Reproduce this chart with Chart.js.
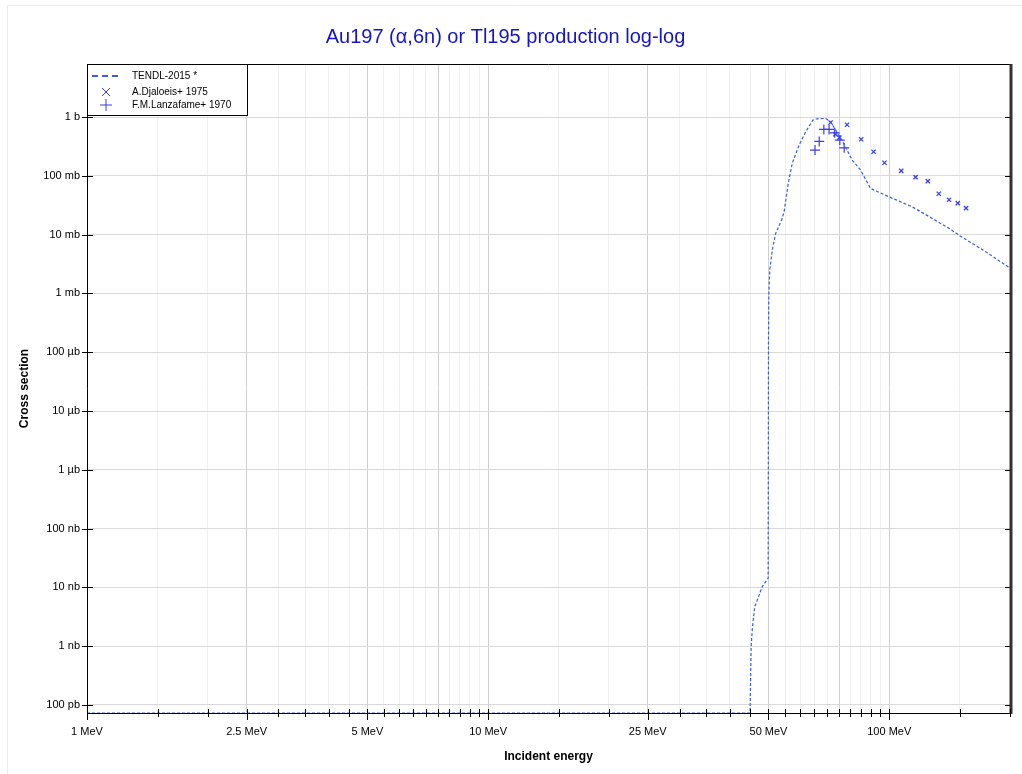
<!DOCTYPE html>
<html lang="en">
<head>
    <meta charset="UTF-8">
    <title>Au197 (α,6n) or Tl195 production log-log</title>
    <script src="https://cdn.jsdelivr.net/npm/chart.js"></script>
    <style>
        body { margin: 0; background: #fff; }
        canvas { display: block; }
    </style>
</head>
<body>
    <canvas id="xs" width="1022" height="774"></canvas>

    <script>
        // TENDL-2015 evaluated curve (MeV, barn)
        const tendlE = [1, 44.98, 45.25, 45.6, 46.2, 48.2, 49.9, 50.0, 50.1, 50.4, 51.1, 52.1, 53.9, 54.7,
            56.0, 57.3, 59.6, 61.9, 64.5, 66.1, 69.4, 71.4, 73.5, 75.7, 77.8, 80.8, 84.8, 89.8, 99.8,
            114, 128, 141, 149, 174, 200];
        const tendlXs = [7.3e-11, 7.3e-11, 9.7e-10, 2.1e-9, 4.65e-9, 1.02e-8, 1.44e-8, 1.6e-4, 1.0e-3, 2.6e-3,
            5.5e-3, 0.0105, 0.0177, 0.0245, 0.075, 0.163, 0.334, 0.562, 0.889, 0.936, 0.95, 0.832, 0.601,
            0.434, 0.313, 0.186, 0.126, 0.0613, 0.0441, 0.0298, 0.0189, 0.0128, 0.00984, 0.00512, 0.0027];

        // A.Djaloeis+ 1975
        const djaloeisE = [71.4, 73.4, 75.1, 78.5, 85.1, 91.4, 97.3, 107.1, 116.3, 124.8, 132.9, 140.9, 148.2, 155.4];
        const djaloeisXs = [0.81, 0.514, 0.448, 0.74, 0.42, 0.257, 0.167, 0.122, 0.0955, 0.0816, 0.0496, 0.0393, 0.0345, 0.0283];

        // F.M.Lanzafame+ 1970
        const lanzafameE = [65.3, 66.9, 68.7, 70.8, 73.1, 75.3, 77.2];
        const lanzafameXs = [0.275, 0.386, 0.618, 0.618, 0.541, 0.406, 0.30];

        const seriesLabels = ['TENDL-2015 *', 'A.Djaloeis+ 1975', 'F.M.Lanzafame+ 1970'];

        // axis ticks
        const xMajor = [1, 2.5, 5, 7.5, 10, 25, 50, 75, 100];
        const xLabeled = [1, 2.5, 5, 10, 25, 50, 100];
        const yTicks = [1e-10, 1e-9, 1e-8, 1e-7, 1e-6, 1e-5, 1e-4, 1e-3, 1e-2, 1e-1, 1];
        const yLabels = ['100 pb', '1 nb', '10 nb', '100 nb', '1 µb', '10 µb', '100 µb', '1 mb', '10 mb', '100 mb', '1 b'];

        const xTicks = [];
        for (let i = 2; i < 20; i++) xTicks.push(i / 2);
        for (let i = 2; i < 20; i++) xTicks.push(i * 5);
        xTicks.push(100, 150, 200);

        const lineColor = '#3a5fd9';
        const markColor = '#3a3ef0';
        const fontFam = "Arial, 'Liberation Sans', sans-serif";
        Chart.defaults.font.family = fontFam;

        const toPts = (xs, ys) => xs.map((x, i) => ({ x: x, y: ys[i] }));

        // outer faint frame
        const pageFrame = {
            id: 'pageFrame',
            beforeDraw(chart) {
                const ctx = chart.ctx;
                ctx.save();
                ctx.strokeStyle = '#ececec';
                ctx.lineWidth = 1;
                ctx.beginPath();
                ctx.moveTo(7.5, 774);
                ctx.lineTo(7.5, 5.5);
                ctx.lineTo(1022, 5.5);
                ctx.stroke();
                ctx.restore();
            }
        };

        // axis frame + crossing tick marks
        const axisFrame = {
            id: 'axisFrame',
            afterDatasetsDraw(chart) {
                const { ctx, chartArea: a, scales } = chart;
                ctx.save();
                ctx.strokeStyle = '#000';
                ctx.lineWidth = 1;
                ctx.beginPath();
                ctx.moveTo(a.left + 0.5, a.bottom);
                ctx.lineTo(a.left + 0.5, a.top + 0.5);
                ctx.lineTo(a.right, a.top + 0.5);
                ctx.moveTo(a.left, a.bottom + 0.5);
                ctx.lineTo(a.right, a.bottom + 0.5);
                ctx.stroke();
                ctx.strokeStyle = '#333';
                ctx.lineWidth = 3;
                ctx.beginPath();
                ctx.moveTo(a.right + 1, a.top);
                ctx.lineTo(a.right + 1, a.bottom + 1);
                ctx.stroke();

                ctx.lineWidth = 1;
                ctx.strokeStyle = '#000';
                ctx.beginPath();
                yTicks.forEach(v => {
                    const y = Math.round(scales.y.getPixelForValue(v)) + 0.5;
                    ctx.moveTo(a.left - 5, y);
                    ctx.lineTo(a.left + 6, y);
                    ctx.moveTo(a.right - 5, y);
                    ctx.lineTo(a.right, y);
                });
                xTicks.forEach(v => {
                    const x = Math.round(scales.x.getPixelForValue(v)) + 0.5;
                    const big = xLabeled.includes(v);
                    ctx.moveTo(x, a.bottom - 4);
                    ctx.lineTo(x, a.bottom + (big ? 7 : 4));
                });
                ctx.stroke();
                ctx.restore();
            }
        };

        // legend box in the top-left corner of the plot
        const legendBox = {
            id: 'legendBox',
            afterDraw(chart) {
                const { ctx, chartArea: a } = chart;
                const l = a.left, t = a.top;
                ctx.save();
                ctx.fillStyle = '#fff';
                ctx.fillRect(l, t, 160, 51);
                ctx.strokeStyle = '#000';
                ctx.lineWidth = 1;
                ctx.strokeRect(l + 0.5, t + 0.5, 160, 51);

                // dashed sample
                ctx.strokeStyle = lineColor;
                ctx.lineWidth = 2;
                ctx.setLineDash([6, 4]);
                ctx.beginPath();
                ctx.moveTo(l + 5, t + 12);
                ctx.lineTo(l + 31, t + 12);
                ctx.stroke();
                ctx.setLineDash([]);

                // cross + plus samples
                ctx.strokeStyle = markColor;
                ctx.lineWidth = 1;
                const cx = l + 19;
                ctx.beginPath();
                ctx.moveTo(cx - 4, t + 24); ctx.lineTo(cx + 4, t + 32);
                ctx.moveTo(cx + 4, t + 24); ctx.lineTo(cx - 4, t + 32);
                ctx.moveTo(cx - 6, t + 41); ctx.lineTo(cx + 6, t + 41);
                ctx.moveTo(cx, t + 35); ctx.lineTo(cx, t + 47);
                ctx.stroke();

                ctx.fillStyle = '#000';
                ctx.font = '10px ' + fontFam;
                ctx.textBaseline = 'middle';
                ctx.fillText(seriesLabels[0], l + 45, t + 12);
                ctx.fillText(seriesLabels[1], l + 45, t + 28);
                ctx.fillText(seriesLabels[2], l + 45, t + 41);
                ctx.restore();
            }
        };

        new Chart(document.getElementById('xs'), {
            type: 'scatter',
            data: {
                datasets: [
                    {
                        label: seriesLabels[0],
                        data: toPts(tendlE, tendlXs),
                        showLine: true,
                        borderColor: lineColor,
                        borderWidth: 1.2,
                        borderDash: [3, 2],
                        pointRadius: 0,
                        fill: false,
                        tension: 0,
                        clip: 2
                    },
                    {
                        label: seriesLabels[1],
                        data: toPts(djaloeisE, djaloeisXs),
                        pointStyle: 'crossRot',
                        pointRadius: 3,
                        borderColor: markColor,
                        backgroundColor: markColor,
                        borderWidth: 1.3
                    },
                    {
                        label: seriesLabels[2],
                        data: toPts(lanzafameE, lanzafameXs),
                        pointStyle: 'cross',
                        pointRadius: 5,
                        borderColor: markColor,
                        backgroundColor: markColor,
                        borderWidth: 1.2
                    }
                ]
            },
            options: {
                responsive: false,
                animation: false,
                layout: { padding: { left: 0, right: 11, top: 0, bottom: 0 } },
                plugins: {
                    legend: { display: false },
                    tooltip: { enabled: false },
                    title: {
                        display: true,
                        text: 'Au197 (α,6n) or Tl195 production log-log',
                        color: '#1414c8',
                        font: { size: 20, weight: 'normal' },
                        padding: { top: 25, bottom: 15 }
                    }
                },
                scales: {
                    x: {
                        type: 'logarithmic',
                        min: 1,
                        max: 200,
                        afterBuildTicks: s => { s.ticks = xTicks.map(v => ({ value: v })); },
                        afterFit: s => { s.height = 61; },
                        border: { display: false },
                        grid: {
                            drawTicks: false,
                            color: c => (c.tick && xMajor.includes(c.tick.value)) ? '#cfcfcf' : '#f0f0f0',
                            lineWidth: 1
                        },
                        ticks: {
                            autoSkip: false,
                            maxRotation: 0,
                            padding: 12,
                            color: '#000',
                            font: { size: 11 },
                            callback: v => xLabeled.includes(v) ? v + ' MeV' : ''
                        },
                        title: {
                            display: true,
                            text: 'Incident energy',
                            color: '#000',
                            font: { size: 12, weight: 'bold' },
                            padding: { bottom: 10 }
                        }
                    },
                    y: {
                        type: 'logarithmic',
                        min: 7.3e-11,
                        max: 8,
                        afterBuildTicks: s => { s.ticks = yTicks.map(v => ({ value: v })); },
                        afterFit: s => { s.width = 87; },
                        border: { display: false },
                        grid: { drawTicks: false, color: '#d9d9d9', lineWidth: 1 },
                        ticks: {
                            autoSkip: false,
                            padding: 7,
                            color: '#000',
                            font: { size: 11 },
                            callback: (v, i) => yLabels[i]
                        },
                        title: {
                            display: true,
                            text: 'Cross section',
                            color: '#000',
                            font: { size: 12, weight: 'bold' },
                            padding: { top: 17 }
                        }
                    }
                }
            },
            plugins: [pageFrame, axisFrame, legendBox]
        });
    </script>
</body>
</html>
